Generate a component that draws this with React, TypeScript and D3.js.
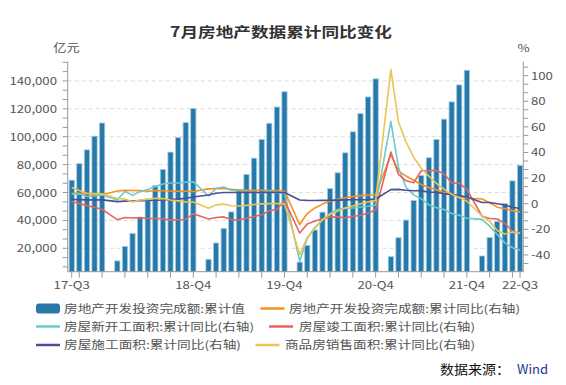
import React from "react";
import * as d3 from "d3";

// ---------- DATA ----------
const months: string[] = [
  "2017-08","2017-09","2017-10","2017-11","2017-12",
  "2018-02","2018-03","2018-04","2018-05","2018-06","2018-07","2018-08","2018-09","2018-10","2018-11","2018-12",
  "2019-02","2019-03","2019-04","2019-05","2019-06","2019-07","2019-08","2019-09","2019-10","2019-11","2019-12",
  "2020-02","2020-03","2020-04","2020-05","2020-06","2020-07","2020-08","2020-09","2020-10","2020-11","2020-12",
  "2021-02","2021-03","2021-04","2021-05","2021-06","2021-07","2021-08","2021-09","2021-10","2021-11","2021-12",
  "2022-02","2022-03","2022-04","2022-05","2022-06","2022-07",
];

// 房地产开发投资完成额:累计值 (亿元)
const investValue: number[] = [
  68813, 80644, 90544, 100387, 109799,
  10971, 21291, 30592, 42202, 55531, 64967, 76519, 88948, 99325, 110083, 120264,
  12090, 23803, 34217, 46075, 61609, 72843, 84589, 98008, 109603, 121265, 132194,
  10115, 21963, 33103, 45920, 62780, 74121, 88454, 103484, 116556, 128492, 141443,
  13986, 27576, 40240, 54318, 72179, 84895, 98011, 112568, 124934, 137086, 147602,
  14499, 27765, 39154, 52134, 68314, 79462,
];

// 房地产开发投资完成额:累计同比 (%)
const investYoY: number[] = [
  7.9, 8.1, 7.8, 7.5, 7.0,
  9.9, 10.4, 10.3, 10.2, 9.7, 10.2, 10.1, 9.9, 9.7, 9.7, 9.5,
  11.6, 11.8, 11.9, 11.2, 10.9, 10.6, 10.5, 10.5, 10.3, 10.2, 9.9,
  -16.3, -7.7, -3.3, -0.3, 1.9, 3.4, 4.6, 5.6, 6.3, 6.8, 7.0,
  38.3, 25.6, 21.6, 18.3, 15.0, 12.7, 10.9, 8.8, 7.2, 6.0, 4.4,
  3.7, 0.7, -2.7, -4.0, -5.4, -6.4,
];

// 房屋新开工面积:累计同比 (%)
const newStartYoY: number[] = [
  7.6, 7.7, 5.6, 6.1, 7.0,
  2.9, 9.7, 6.5, 9.6, 11.0, 13.5, 15.4, 16.2, 16.2, 16.7, 17.2,
  6.0, 11.9, 13.1, 10.5, 10.1, 9.5, 8.9, 8.6, 10.0, 8.6, 8.5,
  -44.9, -27.2, -18.4, -12.8, -7.6, -4.5, -3.6, -3.4, -2.6, -2.0, -1.2,
  64.3, 28.2, 12.8, 6.9, 3.8, -0.9, -3.2, -4.5, -7.7, -9.1, -11.4,
  -12.2, -17.5, -24.0, -30.6, -34.4, -36.1,
];

// 房屋竣工面积:累计同比 (%)
const completedYoY: number[] = [
  2.0, 0.0, -1.3, -3.0, -4.4,
  -12.5, -10.8, -11.2, -10.9, -11.6, -11.6, -11.7, -12.8, -12.5, -12.3, -7.8,
  -11.9, -10.8, -10.3, -12.4, -12.7, -11.3, -10.0, -8.6, -5.5, -4.5, 2.6,
  -22.9, -15.8, -13.5, -11.9, -10.5, -10.3, -11.2, -9.8, -9.2, -7.3, -4.9,
  40.4, 22.9, 17.9, 16.4, 25.7, 25.7, 26.0, 23.4, 16.3, 16.0, 11.2,
  -9.8, -11.5, -11.9, -15.3, -21.5, -23.3,
];

// 房屋施工面积:累计同比 (%)
const constructionYoY: number[] = [
  3.3, 3.2, 3.0, 2.9, 3.0,
  1.6, 2.0, 2.1, 2.4, 2.5, 2.7, 2.9, 3.3, 3.6, 4.3, 5.2,
  6.8, 8.2, 8.8, 8.8, 8.8, 9.0, 8.8, 8.7, 9.0, 8.7, 8.7,
  2.9, 2.6, 2.5, 2.6, 2.6, 2.8, 3.0, 3.1, 3.1, 3.2, 3.7,
  11.0, 11.2, 10.5, 10.1, 10.2, 9.0, 8.9, 7.9, 7.1, 6.3, 5.2,
  1.0, 1.0, 0.0, -1.0, -2.8, -3.7,
];

// 商品房销售面积:累计同比 (%)
const salesYoY: number[] = [
  12.7, 10.3, 8.2, 7.9, 7.7,
  4.1, 3.6, 1.3, 2.9, 3.3, 4.2, 4.0, 2.9, 2.2, 1.4, 1.3,
  -3.6, -0.9, -0.3, -1.6, -1.8, -1.3, -0.6, -0.1, 0.1, 0.2, -0.1,
  -39.9, -26.3, -19.3, -12.3, -8.4, -5.8, -3.3, -1.8, 0.0, 1.3, 2.6,
  104.9, 63.8, 48.1, 36.3, 27.7, 21.5, 15.9, 11.3, 7.3, 4.8, 1.9,
  -9.6, -13.8, -20.9, -23.6, -22.2, -23.1,
];

const xLabelMonths: string[] = ["2017-08", "2018-12", "2019-12", "2020-12", "2021-12", "2022-07"];
const xLabels: string[] = ["17-Q3", "18-Q4", "19-Q4", "20-Q4", "21-Q4", "22-Q3"];
const leftTicks: number[] = [20000, 40000, 60000, 80000, 100000, 120000, 140000];
const rightTicks: number[] = [-40, -20, 0, 20, 40, 60, 80, 100];

const lineSeries = [
  { name: "房地产开发投资完成额:累计同比(右轴)", values: investYoY, color: "#f7901e" },
  { name: "房屋新开工面积:累计同比(右轴)", values: newStartYoY, color: "#6ccaca" },
  { name: "房屋竣工面积:累计同比(右轴)", values: completedYoY, color: "#e8625e" },
  { name: "房屋施工面积:累计同比(右轴)", values: constructionYoY, color: "#4b4f94" },
  { name: "商品房销售面积:累计同比(右轴)", values: salesYoY, color: "#e9c552" },
];
const barName = "房地产开发投资完成额:累计值";
const barColor = "#2878a8";

// ---------- HELPERS ----------
const monthIndex = (s: string) => {
  const [y, m] = s.split("-").map(Number);
  return (y - 2017) * 12 + (m - 8);
};

const FONT = "'Noto Sans CJK SC', 'Noto Sans', sans-serif";

function T(props: {
  x: number; y: number; children: React.ReactNode; anchor?: string; size?: number;
  sx?: number; fill?: string; weight?: number | string;
}) {
  const { x, y, children, anchor = "start", size = 11, sx = 1.2, fill = "#555", weight = "normal" } = props;
  return (
    <text
      transform={`translate(${x},${y}) scale(${sx},1)`}
      textAnchor={anchor as any}
      fontSize={size}
      fill={fill}
      fontWeight={weight as any}
      fontFamily={FONT}
    >
      {children}
    </text>
  );
}

export default function App() {
  const W = 566, H = 385;
  const left = 67.7, right = 523.3, top = 61.7, bottom = 271.7;

  const first = monthIndex(months[0]);
  const last = monthIndex(months[months.length - 1]);
  const x = d3.scaleLinear().domain([first - 0.53, last + 0.43]).range([left, right]);
  const yL = d3.scaleLinear().domain([3230, 153760]).range([bottom, top]);
  const yR = d3.scaleLinear().domain([-53.1, 110.9]).range([bottom, top]);

  const idx = months.map(monthIndex);

  // quarter ticks
  const xTicks: number[] = [first];
  for (let i = first; i <= last; i++) {
    const mm = ((i + 7) % 12) + 1;
    if (mm % 3 === 0 && i !== first) xTicks.push(i);
  }
  if (!xTicks.includes(last)) xTicks.push(last);

  const leftMinor = d3.range(0, 160000, 20000 / 3).filter((v) => yL(v) <= bottom + 0.1 && yL(v) >= top - 0.1);
  const rightMinor = d3.range(-60, 120, 20 / 3).filter((v) => yR(v) <= bottom + 0.1 && yR(v) >= top - 0.1);

  const barW = 5.2;

  const lineGen = (vals: number[]) =>
    d3.line<number>()
      .x((_, i) => x(idx[i]))
      .y((d) => yR(d))(vals) || "";

  const legendRows = [
    { y: 308.5, items: [
      { kind: "bar", color: barColor, name: barName, mx: 36, tx: 64, tw: 181 },
      { kind: "line", color: lineSeries[0].color, name: lineSeries[0].name, mx: 260.5, tx: 289, tw: 231 },
    ]},
    { y: 326.5, items: [
      { kind: "line", color: lineSeries[1].color, name: lineSeries[1].name, mx: 36, tx: 64, tw: 190 },
      { kind: "line", color: lineSeries[2].color, name: lineSeries[2].name, mx: 269, tx: 299, tw: 176 },
    ]},
    { y: 345, items: [
      { kind: "line", color: lineSeries[3].color, name: lineSeries[3].name, mx: 36, tx: 64, tw: 177 },
      { kind: "line", color: lineSeries[4].color, name: lineSeries[4].name, mx: 255.5, tx: 285, tw: 190 },
    ]},
  ];

  return (
    <svg width={W} height={H} style={{ position: "absolute", left: 0, top: 0, background: "#fff" }}>
      {/* title */}
      <text x={281} y={37} textAnchor="middle" fontSize={14} fontWeight="bold" fill="#333"
        fontFamily={FONT} textLength={222} lengthAdjust="spacingAndGlyphs">7月房地产数据累计同比变化</text>
      <T x={66.5} y={52} anchor="middle" size={11}>亿元</T>
      <T x={523.5} y={52} anchor="middle" size={11}>%</T>

      {/* grid */}
      {leftTicks.map((v) => (
        <line key={"g" + v} x1={left} x2={right} y1={yL(v)} y2={yL(v)} stroke="#dcdcdc" strokeDasharray="4,3" strokeWidth={1} />
      ))}

      {/* bars */}
      <defs>
        <clipPath id="plot"><rect x={left} y={top} width={right - left} height={bottom - top} /></clipPath>
      </defs>
      <g clipPath="url(#plot)">
        {investValue.map((v, i) => (
          <rect key={"b" + i} x={x(idx[i]) - barW / 2} y={yL(v)} width={barW} height={bottom - yL(v) + 2}
            fill={barColor} stroke="#9ccbe4" strokeWidth={0.8} />
        ))}
        {lineSeries.map((s) => (
          <path key={s.name} d={lineGen(s.values)} fill="none" stroke={s.color} strokeWidth={1.6} strokeLinejoin="round" />
        ))}
      </g>

      {/* axes */}
      <line x1={left} x2={left} y1={top} y2={bottom} stroke="#999" />
      <line x1={right} x2={right} y1={top} y2={bottom} stroke="#999" />
      <line x1={left} x2={right} y1={bottom} y2={bottom} stroke="#999" />
      {leftMinor.map((v, i) => (
        <line key={"lm" + i} x1={left - 5} x2={left} y1={yL(v)} y2={yL(v)} stroke="#999" />
      ))}
      {rightMinor.map((v, i) => (
        <line key={"rm" + i} x1={right} x2={right + 5} y1={yR(v)} y2={yR(v)} stroke="#999" />
      ))}
      {xTicks.map((m, i) => (
        <line key={"xt" + i} x1={x(m)} x2={x(m)} y1={bottom} y2={bottom + 6} stroke="#999" />
      ))}
      {leftTicks.map((v) => (
        <T key={"lt" + v} x={57} y={yL(v) + 4} anchor="end" size={11}>{d3.format(",")(v)}</T>
      ))}
      {rightTicks.map((v) => (
        <T key={"rt" + v} x={531} y={yR(v) + 4} anchor="start" size={11}>{String(v)}</T>
      ))}
      {xLabelMonths.map((m, i) => (
        <T key={"xl" + i} x={x(monthIndex(m))} y={289} anchor="middle" size={11}>{xLabels[i]}</T>
      ))}

      {/* legend */}
      {legendRows.map((row, ri) => (
        <g key={"lr" + ri}>
          {row.items.map((it) => (
            <g key={it.name}>
              {it.kind === "bar" ? (
                <rect x={it.mx} y={row.y - 5} width={24} height={10} rx={3} fill={it.color} />
              ) : (
                <line x1={it.mx} x2={it.mx + 24} y1={row.y} y2={row.y} stroke={it.color} strokeWidth={2.5} />
              )}
              <text x={it.tx} y={row.y + 4} fontSize={11} fill="#555" fontFamily={FONT}
                textLength={it.tw} lengthAdjust="spacingAndGlyphs">{it.name}</text>
            </g>
          ))}
        </g>
      ))}

      {/* source */}
      <text x={440} y={374} fontSize={13} fill="#111" fontFamily={FONT} textLength={70} lengthAdjust="spacingAndGlyphs">数据来源：</text>
      <text x={517} y={374} fontSize={13} fill="#1a3a8a" fontFamily={FONT} textLength={31} lengthAdjust="spacingAndGlyphs">Wind</text>
    </svg>
  );
}
